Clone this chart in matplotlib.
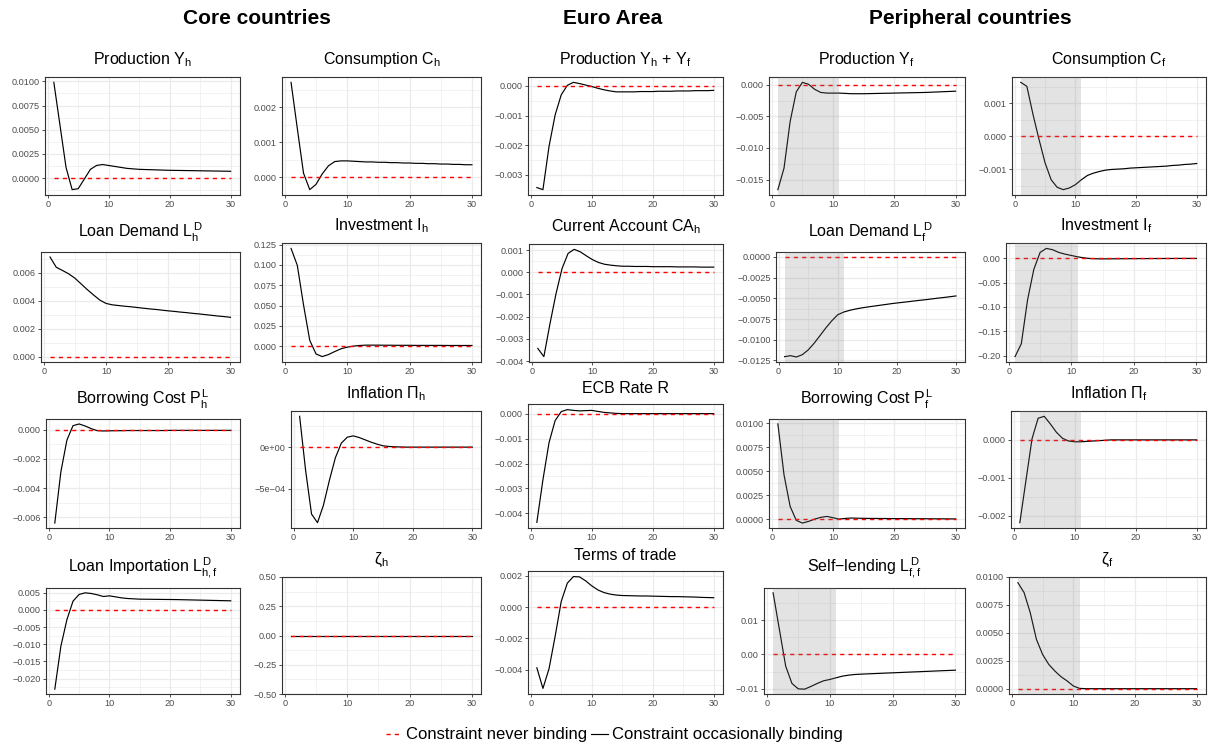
import numpy as np
import matplotlib
matplotlib.use("Agg")
import matplotlib.pyplot as plt
from matplotlib.lines import Line2D

plt.rcParams['font.family'] = ['Liberation Sans', 'DejaVu Sans']
plt.rcParams['mathtext.fontset'] = 'custom'
plt.rcParams['mathtext.rm'] = 'Liberation Sans'
plt.rcParams['mathtext.it'] = 'Liberation Sans'
plt.rcParams['mathtext.bf'] = 'Liberation Sans:bold'

# horizon
periods = np.arange(1, 31)

# constraint never binding (flat at zero in every panel)
never_binding = [0.0, 0.0, 0.0, 0.0, 0.0, 0.0, 0.0, 0.0, 0.0, 0.0,
                 0.0, 0.0, 0.0, 0.0, 0.0, 0.0, 0.0, 0.0, 0.0, 0.0,
                 0.0, 0.0, 0.0, 0.0, 0.0, 0.0, 0.0, 0.0, 0.0, 0.0]

# constraint occasionally binding
prod_h = [0.0099, 0.0055, 0.0011, -0.0012, -0.0011, -0.0001, 0.0009, 0.0013, 0.0014, 0.0013,
          0.0012, 0.0011, 0.0010, 0.00095, 0.0009, 0.00088, 0.00086, 0.00084, 0.00082, 0.0008,
          0.00079, 0.00078, 0.00077, 0.00076, 0.00075, 0.00074, 0.00073, 0.00072, 0.00071, 0.0007]
cons_h = [0.00271, 0.0014, 0.00012, -0.00035, -0.0002, 0.0001, 0.00033, 0.00045, 0.00047, 0.00047,
          0.00046, 0.00045, 0.00044, 0.00044, 0.00043, 0.00043, 0.00042, 0.00042, 0.00041, 0.00041,
          0.0004, 0.0004, 0.00039, 0.00039, 0.00038, 0.00038, 0.00037, 0.00037, 0.00036, 0.00036]
prod_ea = [-0.00343, -0.0035, -0.00204, -0.00098, -0.0003, 0.00002, 0.00012, 0.00008, 0.00003, -0.00002,
           -0.00008, -0.00013, -0.00017, -0.0002, -0.0002, -0.0002, -0.0002, -0.00019, -0.00019, -0.00019,
           -0.00018, -0.00018, -0.00018, -0.00017, -0.00017, -0.00017, -0.00016, -0.00016, -0.00016, -0.00015]
prod_f = [-0.0166, -0.0132, -0.0058, -0.0011, 0.0004, 0.0001, -0.0007, -0.0012, -0.0013, -0.0013,
          -0.0013, -0.00135, -0.0014, -0.0014, -0.0014, -0.00138, -0.00136, -0.00134, -0.00132, -0.0013,
          -0.00128, -0.00126, -0.00124, -0.00122, -0.0012, -0.00116, -0.00112, -0.00108, -0.00104, -0.001]
cons_f = [0.00163, 0.00151, 0.00067, -0.00009, -0.0008, -0.00131, -0.00154, -0.00161, -0.00156, -0.00146,
          -0.00131, -0.00118, -0.00111, -0.00106, -0.00102, -0.001, -0.00099, -0.00098, -0.00096, -0.00095,
          -0.00094, -0.00093, -0.00092, -0.00091, -0.0009, -0.00088, -0.00087, -0.00085, -0.00084, -0.00082]
loan_h = [0.00713, 0.0064, 0.00617, 0.00593, 0.00562, 0.00521, 0.0048, 0.00442, 0.00406, 0.00382,
          0.00372, 0.00367, 0.00362, 0.00358, 0.00353, 0.00348, 0.00343, 0.00339, 0.00334, 0.00329,
          0.00325, 0.0032, 0.00316, 0.00311, 0.00307, 0.00302, 0.00297, 0.00292, 0.00288, 0.00283]
inv_h = [0.1204, 0.0996, 0.0508, 0.0071, -0.0096, -0.0129, -0.0104, -0.0067, -0.0033, -0.0013,
         0.0, 0.0008, 0.0012, 0.0012, 0.0012, 0.0011, 0.0011, 0.001, 0.001, 0.001,
         0.0009, 0.0009, 0.0009, 0.0009, 0.0009, 0.0008, 0.0008, 0.0008, 0.0008, 0.0008]
ca_h = [-0.00343, -0.0038, -0.00233, -0.00097, 0.00017, 0.00085, 0.00103, 0.00092, 0.00074, 0.00057,
        0.00044, 0.00036, 0.00032, 0.00029, 0.00027, 0.00027, 0.00026, 0.00026, 0.00026, 0.00025,
        0.00025, 0.00025, 0.00025, 0.00024, 0.00024, 0.00024, 0.00024, 0.00023, 0.00023, 0.00023]
loan_f = [-0.01205, -0.01193, -0.01209, -0.01181, -0.01124, -0.01043, -0.0095, -0.00856, -0.00771, -0.00698,
          -0.00666, -0.00645, -0.00629, -0.00616, -0.00605, -0.00595, -0.00585, -0.00575, -0.00565, -0.00556,
          -0.00548, -0.0054, -0.00531, -0.00523, -0.00515, -0.00506, -0.00497, -0.00489, -0.0048, -0.00471]
inv_f = [-0.2021, -0.1757, -0.0854, -0.0229, 0.0118, 0.0201, 0.0174, 0.0118, 0.0083, 0.0056,
         0.0028, 0.0007, -0.0007, -0.0012, -0.0014, -0.0013, -0.0012, -0.0011, -0.001, -0.0009,
         -0.0008, -0.0008, -0.0007, -0.0007, -0.0006, -0.0006, -0.0005, -0.0005, -0.0005, -0.0005]
cost_h = [-0.00639, -0.00289, -0.00071, 0.00027, 0.00039, 0.00025, 0.00007, -0.00007, -0.00009, -0.00008,
          -0.00007, -0.00007, -0.00006, -0.00006, -0.00006, -0.00006, -0.00006, -0.00006, -0.00006, -0.00005,
          -0.00005, -0.00005, -0.00005, -0.00005, -0.00005, -0.00005, -0.00005, -0.00005, -0.00005, -0.00005]
infl_h = [0.000372, -0.00028, -0.000808, -0.000912, -0.0007, -0.0004, -0.000128, 0.000048, 0.00012, 0.000136,
          0.000116, 0.000088, 0.00006, 0.000036, 0.000016, 0.000008, 0.000004, 0.000002, 0.0, 0.0,
          0.0, 0.0, 0.0, 0.0, 0.0, 0.0, 0.0, 0.0, 0.0, 0.0]
ecb_rate = [-0.00436, -0.00265, -0.00116, -0.00028, 0.00008, 0.00016, 0.00013, 0.00011, 0.00012, 0.00013,
            0.00009, 0.00005, 0.00003, 0.00001, 0.0, 0.0, 0.0, 0.0, 0.0, 0.0,
            0.0, 0.0, 0.0, 0.0, 0.0, 0.0, 0.0, 0.0, 0.0, 0.0]
cost_f = [0.00992, 0.00463, 0.00135, -0.0001, -0.00038, -0.00021, 0.00003, 0.00021, 0.00031, 0.00017,
          0.00003, 0.0001, 0.00014, 0.00012, 0.00011, 0.0001, 0.0001, 0.00009, 0.00009, 0.00008,
          0.00008, 0.00008, 0.00007, 0.00007, 0.00007, 0.00006, 0.00006, 0.00006, 0.00005, 0.00005]
infl_f = [-0.00218, -0.00107, 0.00003, 0.00057, 0.00062, 0.00042, 0.0002, 0.00004, -0.00003, -0.00005,
          -0.00005, -0.00004, -0.00003, -0.00002, -0.00001, 0.0, 0.0, 0.0, 0.0, 0.0,
          0.0, 0.0, 0.0, 0.0, 0.0, 0.0, 0.0, 0.0, 0.0, 0.0]
loan_hf = [-0.0231, -0.01062, -0.00283, 0.00253, 0.00448, 0.00497, 0.00478, 0.00439, 0.0039, 0.00409,
           0.0038, 0.0035, 0.00331, 0.00322, 0.00312, 0.0031, 0.00308, 0.00306, 0.00304, 0.00302,
           0.003, 0.00296, 0.00292, 0.00288, 0.00284, 0.0028, 0.00276, 0.00272, 0.00268, 0.00264]
zeta_h = [0.0, 0.0, 0.0, 0.0, 0.0, 0.0, 0.0, 0.0, 0.0, 0.0,
          0.0, 0.0, 0.0, 0.0, 0.0, 0.0, 0.0, 0.0, 0.0, 0.0,
          0.0, 0.0, 0.0, 0.0, 0.0, 0.0, 0.0, 0.0, 0.0, 0.0]
tot = [-0.00388, -0.0052, -0.00394, -0.00187, 0.00036, 0.00153, 0.00195, 0.00193, 0.00168, 0.00136,
       0.0011, 0.00093, 0.00083, 0.00077, 0.00074, 0.00073, 0.00072, 0.00071, 0.00071, 0.0007,
       0.00069, 0.00068, 0.00067, 0.00067, 0.00066, 0.00065, 0.00064, 0.00062, 0.00061, 0.0006]
self_f = [0.01814, 0.00735, -0.00343, -0.00853, -0.0101, -0.0102, -0.00941, -0.00853, -0.00775, -0.00735,
          -0.00686, -0.00637, -0.00608, -0.00588, -0.00578, -0.0057, -0.00562, -0.00554, -0.00546, -0.00539,
          -0.00531, -0.00523, -0.00515, -0.00508, -0.005, -0.00492, -0.00484, -0.00476, -0.00469, -0.00461]
zeta_f = [0.00949, 0.0086, 0.0068, 0.00442, 0.00307, 0.00218, 0.00158, 0.00107, 0.00069, 0.00024,
          0.00003, 0.0, 0.0, 0.0, 0.0, 0.0, 0.0, 0.0, 0.0, 0.0,
          0.0, 0.0, 0.0, 0.0, 0.0, 0.0, 0.0, 0.0, 0.0, 0.0]

# binding period shaded for the peripheral countries
binding_start, binding_end = 1, 11

# (title, series, y ticks, label format, shaded)
panels = [
    ("Production $Y_h$", prod_h, [0, 0.0025, 0.005, 0.0075, 0.01], "{:.4f}", False),
    ("Consumption $C_h$", cons_h, [0, 0.001, 0.002], "{:.3f}", False),
    ("Production $Y_h$ + $Y_f$", prod_ea, [-0.003, -0.002, -0.001, 0], "{:.3f}", False),
    ("Production $Y_f$", prod_f, [-0.015, -0.01, -0.005, 0], "{:.3f}", True),
    ("Consumption $C_f$", cons_f, [-0.001, 0, 0.001], "{:.3f}", True),
    ("Loan Demand $L_h^D$", loan_h, [0, 0.002, 0.004, 0.006], "{:.3f}", False),
    ("Investment $I_h$", inv_h, [0, 0.025, 0.05, 0.075, 0.1, 0.125], "{:.3f}", False),
    ("Current Account $CA_h$", ca_h, [-0.004, -0.003, -0.002, -0.001, 0, 0.001], "{:.3f}", False),
    ("Loan Demand $L_f^D$", loan_f, [-0.0125, -0.01, -0.0075, -0.005, -0.0025, 0], "{:.4f}", True),
    ("Investment $I_f$", inv_f, [-0.2, -0.15, -0.1, -0.05, 0], "{:.2f}", True),
    ("Borrowing Cost $P_h^L$", cost_h, [-0.006, -0.004, -0.002, 0], "{:.3f}", False),
    (r"Inflation $\Pi_h$", infl_h, [-0.0005, 0], "{:.0e}", False),
    ("ECB Rate R", ecb_rate, [-0.004, -0.003, -0.002, -0.001, 0], "{:.3f}", False),
    ("Borrowing Cost $P_f^L$", cost_f, [0, 0.0025, 0.005, 0.0075, 0.01], "{:.4f}", True),
    (r"Inflation $\Pi_f$", infl_f, [-0.002, -0.001, 0], "{:.3f}", True),
    ("Loan Importation $L_{h,f}^D$", loan_hf, [-0.02, -0.015, -0.01, -0.005, 0, 0.005], "{:.3f}", False),
    (r"$\zeta_h$", zeta_h, [-0.5, -0.25, 0, 0.25, 0.5], "{:.2f}", False),
    ("Terms of trade", tot, [-0.004, -0.002, 0, 0.002], "{:.3f}", False),
    ("Self\u2212lending $L_{f,f}^D$", self_f, [-0.01, 0, 0.01], "{:.2f}", True),
    (r"$\zeta_f$", zeta_f, [0, 0.0025, 0.005, 0.0075, 0.01], "{:.4f}", True),
]

# panel boxes in pixels: left, top, right, bottom
boxes = [
    (45, 77, 239.5, 195), (282, 77, 481, 195), (528, 77, 722.5, 195), (769, 77, 964.5, 195), (1012, 77, 1205.5, 195),
    (41, 252, 239.5, 362), (282, 243, 481, 362), (529, 244, 722.5, 362), (776, 252, 964.5, 362), (1006, 243, 1205.5, 362),
    (46, 419, 239.5, 528), (291, 411, 481, 528), (528, 404, 722.5, 528), (769, 419, 964.5, 528), (1011, 411, 1205.5, 528),
    (46, 588, 239.5, 694), (282, 577, 481, 694), (528, 571, 722.5, 694), (764, 588, 964.5, 694), (1009, 577, 1205.5, 694),
]

W, H = 1208, 749
fig = plt.figure(figsize=(W / 100, H / 100), dpi=100)

grid_col = "#ebebeb"
text_col = "#4d4d4d"
border_col = "#333333"

xlim = (1 - 0.05 * 29, 30 + 0.05 * 29)

for (title, series, yticks, fmt, shaded), (l, t, r, b) in zip(panels, boxes):
    ax = fig.add_axes([l / W, 1 - b / H, (r - l) / W, (b - t) / H])
    ax.plot(periods, series, color="black", lw=0.85, zorder=2)
    ax.plot(periods, never_binding, color="#ff0000", lw=1.0, ls=(0, (3, 3)), zorder=2.5)
    if shaded:
        ax.axvspan(binding_start, binding_end, color="#808080", alpha=0.22, lw=0, zorder=3)

    lo = min(min(series), 0)
    hi = max(max(series), 0)
    if hi == lo:
        ylim = (lo - 0.5, hi + 0.5)
    else:
        pad = 0.05 * (hi - lo)
        ylim = (lo - pad, hi + pad)
    ax.set_ylim(ylim)
    ax.set_xlim(xlim)

    ax.set_yticks(yticks)
    ax.set_yticklabels([fmt.format(v).replace("-", "\u2212") for v in yticks])
    step = yticks[1] - yticks[0]
    minor = [yticks[0] - step / 2] + [v + step / 2 for v in yticks]
    ax.set_yticks([m for m in minor if ylim[0] <= m <= ylim[1]], minor=True)
    ax.set_xticks([0, 10, 20, 30])
    ax.set_xticks([5, 15, 25], minor=True)

    ax.grid(which="major", color=grid_col, lw=0.9, zorder=0)
    ax.grid(which="minor", color=grid_col, lw=0.45, zorder=0)
    ax.set_axisbelow(True)
    ax.tick_params(which="major", length=2.2, width=0.6, color=border_col,
                   labelsize=6.6, labelcolor=text_col, pad=1.5)
    ax.tick_params(which="minor", length=0)
    for sp in ax.spines.values():
        sp.set_color(border_col)
        sp.set_linewidth(0.8)
    ax.set_title(title, fontsize=11.5, pad=6, va="bottom")

# column headers
fig.text(257 / W, 1 - 24 / H, "Core countries", ha="center", va="baseline",
         fontsize=15, fontweight="bold")
fig.text(613 / W, 1 - 24 / H, "Euro Area", ha="center", va="baseline",
         fontsize=15, fontweight="bold")
fig.text(970 / W, 1 - 24 / H, "Peripheral countries", ha="center", va="baseline",
         fontsize=15, fontweight="bold")

handles = [Line2D([], [], color="#ff0000", lw=1.0, ls=(0, (3, 3))),
           Line2D([], [], color="black", lw=0.85)]
fig.legend(handles, ["Constraint never binding", "Constraint occasionally binding"],
           loc="center", bbox_to_anchor=(614 / W, 1 - 735 / H), ncol=2, frameon=False,
           fontsize=12, handlelength=1.0, handletextpad=0.25, columnspacing=0.2)

fig.savefig("out.png", dpi=100)
